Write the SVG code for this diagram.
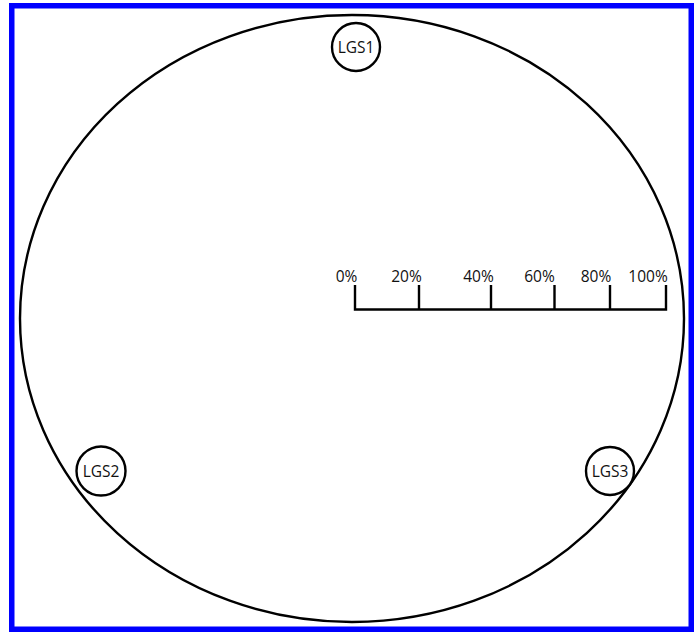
<svg xmlns="http://www.w3.org/2000/svg" width="697" height="632" viewBox="0 0 697 632">
<style>
.ln{fill:none;stroke:#000;stroke-width:2.4}
.nd{fill:#fff;stroke:#000;stroke-width:2.4}
.lb{font-family:"Open Sans","Liberation Sans",sans-serif;font-size:15.5px;fill:#111;text-anchor:middle}
.sc{font-family:"Open Sans","Liberation Sans",sans-serif;font-size:15.5px;fill:#111;text-anchor:middle}
</style>
<rect x="0" y="0" width="697" height="632" fill="#fff"/>
<rect x="11.75" y="5.75" width="679.5" height="623.5" fill="none" stroke="#0000ff" stroke-width="5.5"/>
<ellipse id="field" cx="352" cy="318.5" rx="332" ry="303.5" class="ln"/>
<g id="LGS1"><circle cx="356" cy="47" r="24" class="nd"/><text x="356" y="52.5" class="lb">LGS1</text></g>
<g id="LGS2"><circle cx="101" cy="471" r="24.5" class="nd"/><text x="101" y="476.5" class="lb">LGS2</text></g>
<g id="LGS3"><circle cx="610" cy="471" r="24" class="nd"/><text x="610" y="476.5" class="lb">LGS3</text></g>
<g id="scale">
<path class="ln" d="M355,285V309.5H666V285M419,285V309.5M491,285V309.5M554.5,285V309.5M610,285V309.5" stroke-width="2"/>
<text x="346.5" y="281.5" class="sc">0%</text>
<text x="406.5" y="281.5" class="sc">20%</text>
<text x="478.5" y="281.5" class="sc">40%</text>
<text x="539.5" y="281.5" class="sc">60%</text>
<text x="596" y="281.5" class="sc">80%</text>
<text x="648" y="281.5" class="sc">100%</text>
</g>
</svg>
